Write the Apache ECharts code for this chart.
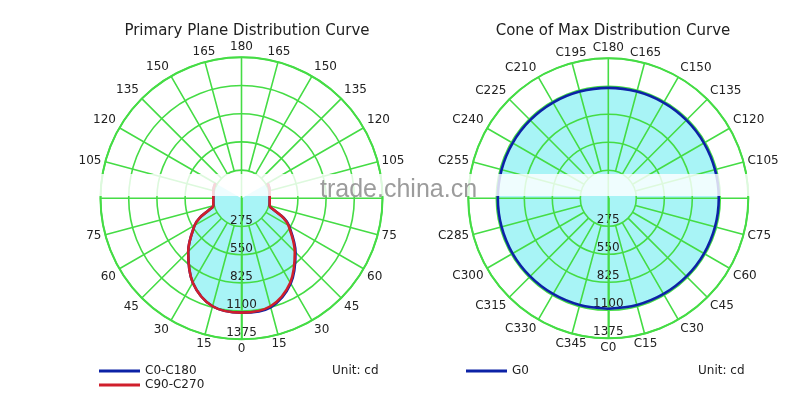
<!DOCTYPE html>
<html>
<head>
<meta charset="utf-8">
<script src="https://cdn.jsdelivr.net/npm/echarts@6/dist/echarts.min.js"></script>
<style>
  html, body { margin: 0; padding: 0; background: #fff; }
  #chart { width: 800px; height: 403px; }
</style>
</head>
<body>
<div id="chart"></div>
<script>
// 光强分布数据 (cd)
const ringValues = [275, 550, 825, 1100, 1375]
const angleTicks = [0, 15, 30, 45, 60, 75, 90, 105, 120, 135, 150, 165, 180, 195, 210, 225, 240, 255, 270, 285, 300, 315, 330, 345]

// 主平面曲线: 角度相对于正下方 (正值 = 画面左侧)
const curveAngles = [-120, -105, -90, -75, -70, -65, -60, -45, -30, -15, 0, 15, 30, 45, 60, 65, 70, 75, 90, 105, 120]
const c0c180Values = [295, 285, 275, 285, 340, 455, 535, 745, 960, 1100, 1115, 1090, 950, 735, 528, 450, 340, 285, 275, 285, 295]
const c90c270Values = [295, 285, 275, 285, 340, 450, 528, 735, 950, 1090, 1115, 1090, 950, 735, 528, 450, 340, 285, 275, 285, 295]

// 最大光强锥面曲线
const g0Angles = [0, 15, 30, 45, 60, 75, 90, 105, 120, 135, 150, 165, 180, 195, 210, 225, 240, 255, 270, 285, 300, 315, 330, 345, 360]
const g0Values = [1085, 1085, 1085, 1085, 1085, 1085, 1085, 1085, 1085, 1085, 1085, 1085, 1085, 1085, 1085, 1085, 1085, 1085, 1085, 1085, 1085, 1085, 1085, 1085, 1085]

const GREEN = '#45dc45'
const CYAN = '#a8f4f6'
const BLUE = '#0c22a6'
const RED = '#d01f2c'
const FONT = 'DejaVu Sans'

const toPolar = (angles, values) => angles.map((a, i) => [values[i], (a + 360) % 360])

// 径向线: 从 275 圈到外圈, 0/180 穿过圆心
function spokes() {
  const out = []
  angleTicks.forEach(a => {
    const start = (a === 0 || a === 180) ? 0 : ringValues[0]
    out.push([start, a], [ringValues[ringValues.length - 1], a], ['-', '-'])
  })
  return out
}

function polarAxes(idx, clockwise, labelFn) {
  return {
    angle: {
      polarIndex: idx,
      type: 'value',
      min: 0,
      max: 360,
      interval: 15,
      startAngle: 270,
      clockwise: clockwise,
      z: 3,
      axisLine: { lineStyle: { color: GREEN, width: 2 } },
      axisTick: { show: false },
      splitLine: { show: false },
      axisLabel: {
        margin: 4,
        color: '#222',
        fontSize: 12,
        fontFamily: FONT,
        formatter: v => (v === 90 || v === 270 || v === 360) ? '' : labelFn(v),
      },
    },
    radius: {
      polarIndex: idx,
      type: 'value',
      min: 0,
      max: 1375,
      interval: 275,
      z: 3,
      axisLine: { lineStyle: { color: GREEN, width: 1.6 } },
      axisTick: { show: false },
      splitLine: { lineStyle: { color: GREEN, width: 1.6 } },
      axisLabel: {
        margin: 0,
        align: 'center',
        verticalAlign: 'bottom',
        color: '#222',
        fontSize: 12,
        fontFamily: FONT,
        formatter: v => v === 0 ? '' : String(v),
      },
    },
  }
}

const left = polarAxes(0, true, v => String(v <= 180 ? v : 360 - v))
const right = polarAxes(1, false, v => 'C' + v)

function spokeSeries(idx) {
  return {
    type: 'line',
    coordinateSystem: 'polar',
    polarIndex: idx,
    data: spokes(),
    symbol: 'none',
    silent: true,
    z: 3,
    connectNulls: false,
    lineStyle: { color: GREEN, width: 1.6 },
  }
}

function fillSeries(idx, data) {
  return {
    type: 'line',
    coordinateSystem: 'polar',
    polarIndex: idx,
    data: data,
    symbol: 'none',
    smooth: 0.35,
    silent: true,
    z: 2,
    lineStyle: { width: 0 },
    areaStyle: { color: CYAN, opacity: 1 },
  }
}

function curveSeries(idx, name, data, color) {
  return {
    name: name,
    type: 'line',
    coordinateSystem: 'polar',
    polarIndex: idx,
    data: data,
    symbol: 'none',
    smooth: 0.35,
    z: 4,
    lineStyle: { color: color, width: 2.6 },
    itemStyle: { color: color },
  }
}

const legendText = { fontSize: 12, color: '#222', fontFamily: FONT, lineHeight: 14 }

const option = {
  animation: false,
  textStyle: { fontFamily: FONT },
  title: [
    {
      text: 'Primary Plane Distribution Curve',
      left: 242,
      top: 19,
      textAlign: 'center',
      textStyle: { fontSize: 15, fontWeight: 'normal', color: '#222', fontFamily: FONT },
    },
    {
      text: 'Cone of Max Distribution Curve',
      left: 608,
      top: 19,
      textAlign: 'center',
      textStyle: { fontSize: 15, fontWeight: 'normal', color: '#222', fontFamily: FONT },
    },
  ],
  legend: [
    {
      data: ['C0-C180', 'C90-C270'],
      orient: 'vertical',
      left: 94,
      top: 359,
      icon: 'rect',
      itemWidth: 41,
      itemHeight: 3,
      itemGap: 0,
      selectedMode: false,
      textStyle: legendText,
    },
    {
      data: ['G0'],
      orient: 'vertical',
      left: 461,
      top: 359,
      icon: 'rect',
      itemWidth: 41,
      itemHeight: 3,
      selectedMode: false,
      textStyle: legendText,
    },
  ],
  polar: [
    { center: [241.5, 198.3], radius: 141 },
    { center: [608.3, 198.3], radius: 140 },
  ],
  angleAxis: [left.angle, right.angle],
  radiusAxis: [left.radius, right.radius],
  series: [
    fillSeries(0, toPolar(curveAngles, c90c270Values)),
    spokeSeries(0),
    curveSeries(0, 'C0-C180', toPolar(curveAngles, c0c180Values), BLUE),
    curveSeries(0, 'C90-C270', toPolar(curveAngles, c90c270Values), RED),
    fillSeries(1, g0Angles.map((a, i) => [g0Values[i], a])),
    spokeSeries(1),
    curveSeries(1, 'G0', g0Angles.map((a, i) => [g0Values[i], a]), BLUE),
  ],
  graphic: [
    {
      type: 'text', left: 332, top: 364, z: 10,
      style: { text: 'Unit: cd', fontSize: 12, fontFamily: FONT, fill: '#222', lineHeight: 14 },
    },
    {
      type: 'text', left: 698, top: 364, z: 10,
      style: { text: 'Unit: cd', fontSize: 12, fontFamily: FONT, fill: '#222', lineHeight: 14 },
    },
    // 水印条
    {
      type: 'rect', shape: { x: 95, y: 174, width: 660, height: 22 }, z: 10, silent: true,
      style: { fill: 'rgba(255,255,255,0.82)' },
    },
    {
      type: 'text', left: 320, top: 178, z: 11, silent: true,
      style: { text: 'trade.china.cn', fontSize: 25, fontFamily: 'Liberation Sans', fill: '#9c9c9c' },
    },
  ],
}

const chart = echarts.init(document.getElementById('chart'))
chart.setOption(option)
</script>
</body>
</html>
